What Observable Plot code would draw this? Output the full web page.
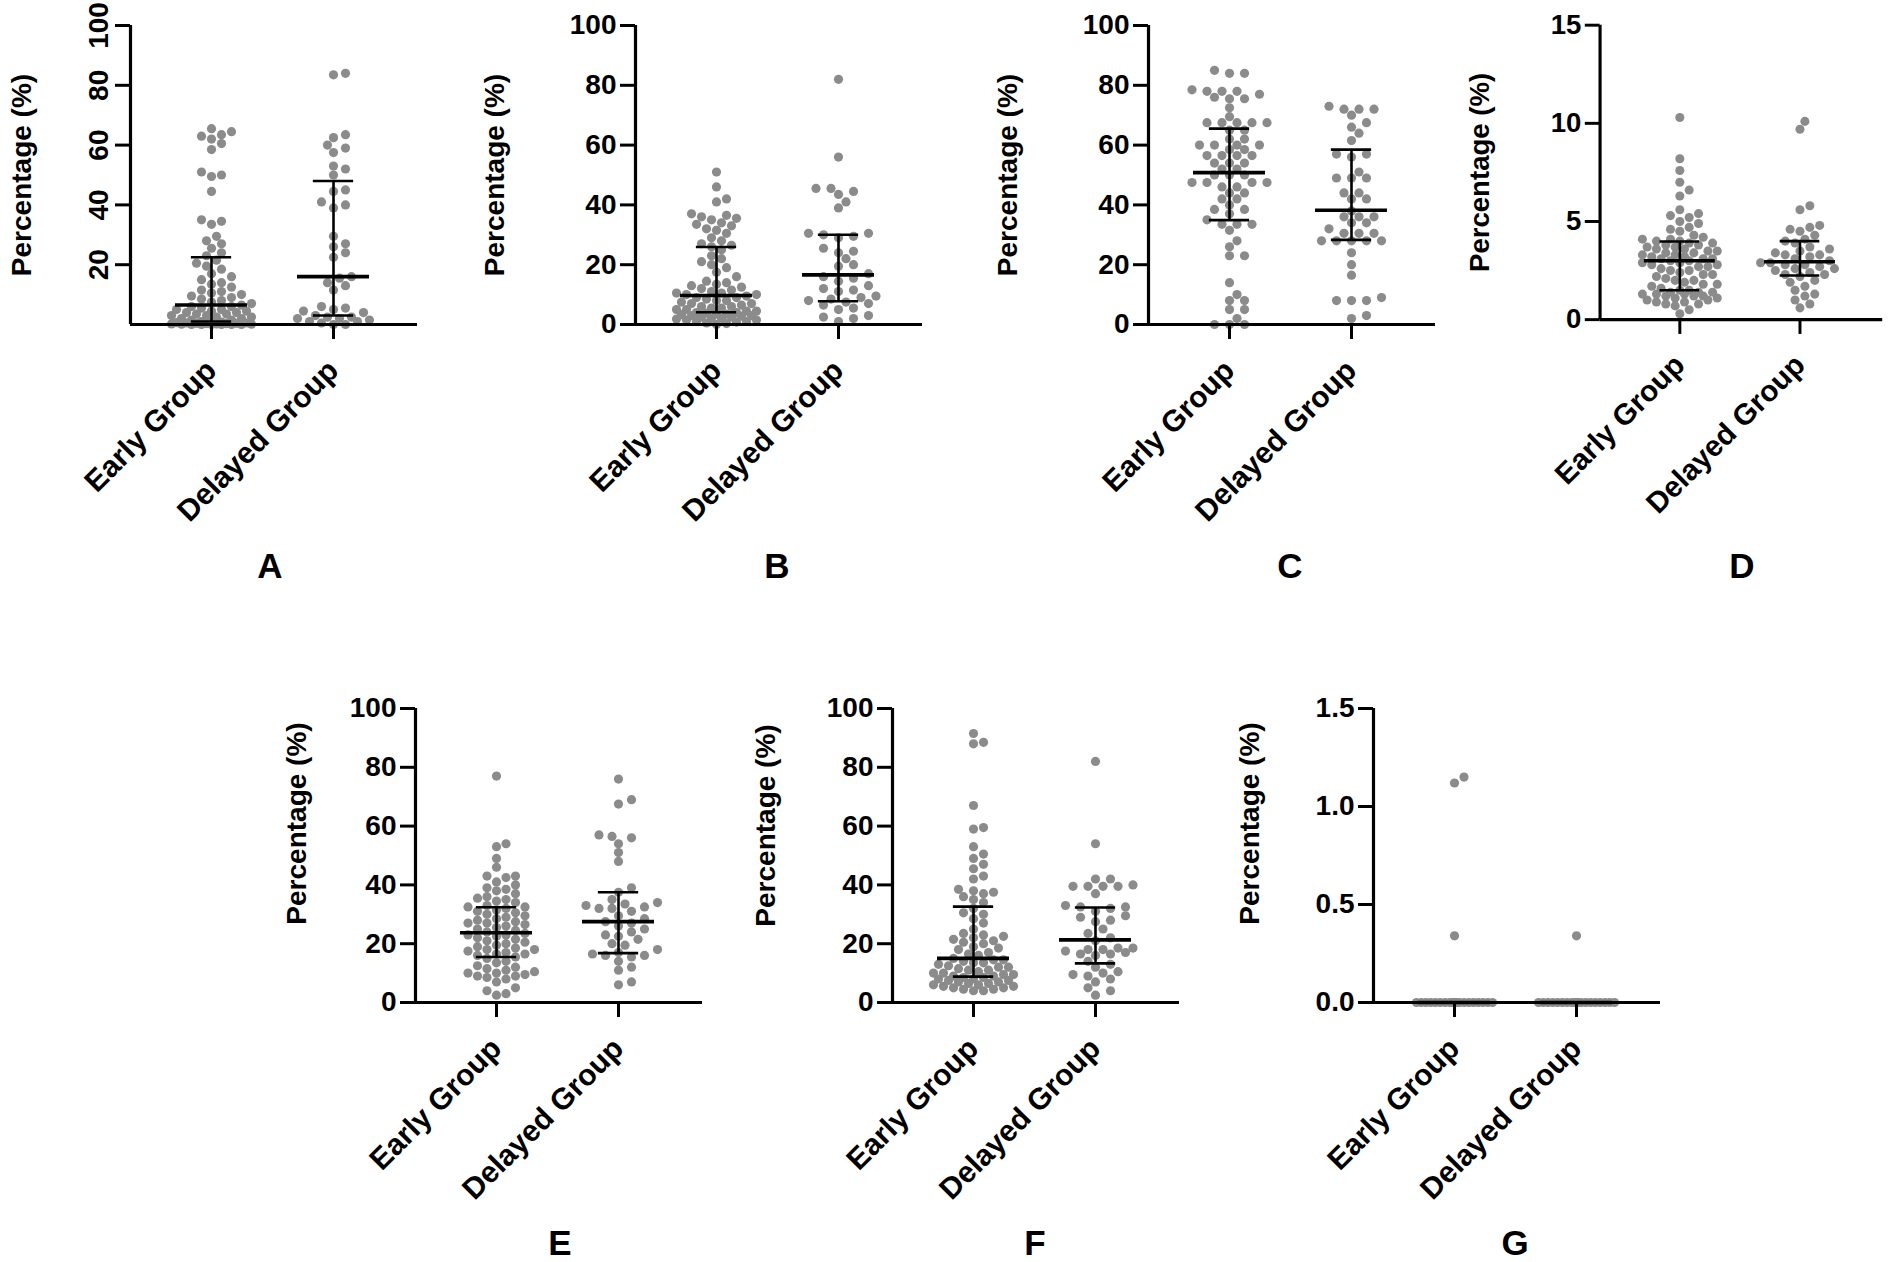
<!DOCTYPE html>
<html><head><meta charset="utf-8">
<script src="https://cdn.jsdelivr.net/npm/d3@7"></script>
<script src="https://cdn.jsdelivr.net/npm/@observablehq/plot@0.6"></script>
<style>
html,body{margin:0;padding:0;background:#fff;}
#page{position:relative;width:1896px;height:1262px;overflow:hidden;background:#fff;font-family:"Liberation Sans",Arial,Helvetica,sans-serif;}
.panel{position:absolute;}
.letter{position:absolute;font-weight:bold;font-size:35px;line-height:1;transform:translate(-50%,-50%);color:#000;}
</style></head><body><div id="page"></div>
<script>
// ---------- data ----------
const groups = ["Early Group", "Delayed Group"];
const yLabel = "Percentage (%)";

const A_early = [65.5,64.5,63.5,63,62,60.5,58.5,51,50,49.5,44.5,35,34.5,33.5,29.5,28,27,25.5,24,23,
  21.5,20.5,19.5,18.5,17,16,15,14,13.5,12.5,11.5,11,10.5,10,9.5,9,8.5,8,7.5,7,
  6.5,6,6,5.5,5,5,4.5,4.5,4,4,3.5,3.5,3,3,2.5,2.5,2,2,1.5,1.5,1,
  0.8,0.7,0.6,0.5,0.5,0.4,0.4,0.3,0.3,0.2,0.2,0.1,0.1,0,0,0,0,0,0];
const A_delayed = [84,83.5,63.5,62.5,60,59,57.5,53,52,50,45,44.5,41,40,39,29.5,27,26,24,22.5,
  16,15.5,14,13,11.5,6,5.5,5,4.5,4,3,2.5,2.5,2,2,1.5,1,1,0.5,0,0];
const A_median = [6.5, 16], A_q1 = [1, 3], A_q3 = [22.5, 48];

const B_early = [51,46,42,41,37,36.5,36,35.5,35,34,33.5,33,32,31.5,30.5,29,28,27,26.5,26,
  25,23,22,21,20,19,17.5,16,14.5,14,13.5,13,12.5,12,11.5,11,10.5,10.5,10,10,
  9.5,9,9,8.5,8,8,7.5,7,7,6.5,6,6,5.5,5.5,5,5,4.5,4.5,4,4,
  3.8,3.5,3.5,3.3,3,3,2.8,2.5,2.5,2,2,1.8,1.5,1.5,1,1,0.8,0.5,0.3,0];
const B_delayed = [82,56,45.5,45.5,44.5,43.5,41,39,30.5,30.5,30,29.5,29,25.5,24.5,24,22,20,19.5,17,
  16,15.5,14.5,13,12,11.5,11,9.5,9,8.5,8,7.5,7,6.5,5.5,5,3,2.5,2,1];
const B_median = [9.7, 16.6], B_q1 = [4.1, 7.8], B_q3 = [25.9, 30];

const C_early = [85,84,84,78,78,78.5,77,78,76,75.5,75.5,72.5,69.5,67.5,67.5,67.5,67.5,67.5,65,65,
  62,62,60,60,60,60,58.5,58.5,56.5,56.5,56.5,56.5,54,54,54,52,52,50,50,50,
  47.5,47.5,47.5,47.5,46,46,44,44,42,42,40,38.5,38.5,37,35,33.5,33.5,33.5,31.5,28,
  26,23,23,14,10,8,8,5,5,2,0,0,0];
const C_delayed = [73,72,72,72,70,67.5,66,64,61.5,57,57,56,51,49,49,49,44,44,42,42,
  38,36,36,36,34,34,32,30.5,30.5,30.5,28,28,28,28,28,24,20,16.5,9,8,8,8,3,2];
const C_median = [50.8, 38.2], C_q1 = [34.9, 28.3], C_q3 = [65.5, 58.5];

const D_early = [10.3,8.2,7.6,7.0,6.6,6.3,5.6,5.4,5.3,5.2,5.0,4.9,4.7,4.6,4.5,4.3,4.2,4.1,4.1,4.0,4.0,
  3.9,3.9,3.8,3.8,3.7,3.7,3.6,3.6,3.5,3.5,3.4,3.4,3.3,3.3,3.2,3.2,3.1,3.1,3.1,3.0,3.0,
  2.9,2.9,2.8,2.8,2.7,2.7,2.6,2.5,2.5,2.4,2.3,2.3,2.2,2.1,2.0,2.0,1.9,1.8,1.8,1.7,1.6,1.5,
  1.5,1.4,1.4,1.4,1.3,1.3,1.3,1.2,1.2,1.2,1.1,1.1,1.0,1.0,0.9,0.9,0.8,0.8,0.7,0.5,0.3];
const D_delayed = [10.1,9.7,5.8,5.6,4.8,4.7,4.6,4.5,4.3,4.1,
  4.0,3.9,3.7,3.6,3.5,3.4,3.3,3.3,3.2,3.1,3.0,
  2.9,2.9,2.8,2.8,2.7,2.6,2.6,2.5,2.4,2.3,2.3,
  2.2,2.0,1.9,1.7,1.5,1.3,1.2,1.0,0.8,0.6];
const D_median = [3.0, 2.95], D_q1 = [1.5, 2.25], D_q3 = [3.98, 4.0];

const E_early = [77,54,53,49,46,43,43,42.5,41,40,39,38.5,38,37,36,35.5,35,34.5,34,33,
  32.5,32.5,32,31.5,31,30.5,30,29.5,29,28.5,28,27.5,27,27,26.5,26,25.5,25,24.5,24,
  23.5,23,23,22.5,22,21.5,21,20.5,20,19.5,19,18.5,18,18,17.5,17,16.5,16.5,16,15.5,
  15,14,13.5,12.5,12,11.5,11,10.5,10,10,9.5,9,9,8.5,8,7,5,4,3,2.5];
const E_delayed = [76,69,67.5,57,56.5,56,54,51,48,39,
  37.5,35,34,33.5,33,32.5,32,32,31,29.5,28.5,
  27.5,27,26,25,24,23,22.5,21.5,20,19.5,18,
  17,16.5,16,16,15.5,14,12,11,7,6];
const E_median = [23.7, 27.5], E_q1 = [15.5, 16.8], E_q3 = [32.4, 37.5];

const F_early = [91.5,88.5,88,67,59.5,59,53,50.5,49,47,45.5,43,42,38.5,38,37.5,37,36,35,34,
  32,30.5,30,28.5,27,25,23.5,23,22.5,22,21.5,21,20.5,20,19,18.5,18,17,16.5,16,
  15,14.5,14.5,14,13.5,13.5,13,12.5,12,12,11.5,11,11,10.5,10,10,9.5,9.5,9,9,
  8.5,8.5,8,8,7.5,7.5,7,7,6.5,6.5,6,6,5.5,5.5,5,5,4.5,4.5,4,4];
const F_delayed = [82,54,42,42,40,39.5,39.5,39.5,39.5,37,33,
  32.5,32.5,32,31,29.5,29,28,27.5,25,23.5,22,
  21,18.5,18.5,18,18,17.5,17,16.5,16.5,16,14,
  13,12,10.5,10,9.5,9,8,7,5,4,2.5];
const F_median = [15, 21.3], F_q1 = [8.8, 13.3], F_q3 = [32.6, 32.3];

const G_early = [1.15,1.12,0.34,
  0,0,0,0,0,0,0,0,0,0,0,0,0,0,0,0,0,0,0,0,0,0,0,0,0,0,0,0,0,0,0,0,0,0,0,0,0,0,
  0,0,0,0,0,0,0,0,0,0,0,0,0,0,0,0,0,0,0,0,0,0,0,0,0,0,0,0,0,0,0,0,0,0,0,0,0];
const G_delayed = [0.34,
  0,0,0,0,0,0,0,0,0,0,0,0,0,0,0,0,0,0,0,0,0,0,0,0,0,0,0,0,0,0,0,0,0,0,0,0,0,0,0,0,0];
const G_median = [0, 0], G_q1 = [0, 0], G_q3 = [0, 0];

const ticks100 = [0, 20, 40, 60, 80, 100];
const ticksA = [20, 40, 60, 80, 100];
const ticksD = [0, 5, 10, 15];
const ticksG = [0, 0.5, 1.0, 1.5];

// ---------- layout / style ----------
const PX_PER_UNIT = 122, EARLY_OFF = 81, PLOT_W = 287;
const xDom = [-EARLY_OFF / PX_PER_UNIT, (PLOT_W - EARLY_OFF) / PX_PER_UNIT];
const CAP = 0.165, MED = 0.295;
const DOT_R = 4.6, DIAM = 8.8, MAX_HALF = 40;
const FONT = '"Liberation Sans", Arial, Helvetica, sans-serif';

const panels = [
  {letter:"A", early:A_early, delayed:A_delayed, median:A_median, q1:A_q1, q3:A_q3, ymax:100, ticks:ticksA, fmt:d3.format("d"),
   axisX:130, ytop:25, plotH:299, ml:128, labelOff:108, labelDy:0, rotY:-90, pitch:[10,12], lx:270, ly:565},
  {letter:"B", early:B_early, delayed:B_delayed, median:B_median, q1:B_q1, q3:B_q3, ymax:100, ticks:ticks100, fmt:d3.format("d"),
   axisX:635, ytop:25, plotH:299, ml:160, labelOff:140, labelDy:0, rotY:0, pitch:[10,15], lx:777, ly:565},
  {letter:"C", early:C_early, delayed:C_delayed, median:C_median, q1:C_q1, q3:C_q3, ymax:100, ticks:ticks100, fmt:d3.format("d"),
   axisX:1148, ytop:25, plotH:299, ml:160, labelOff:140, labelDy:0, rotY:0, pitch:[15,15], lx:1290, ly:565},
  {letter:"D", early:D_early, delayed:D_delayed, median:D_median, q1:D_q1, q3:D_q3, ymax:15, ticks:ticksD, fmt:d3.format("d"),
   axisX:1602, ytop:25, plotH:299, ml:160, labelOff:122, labelDy:0, rotY:0, pitch:[9.5,10], lx:1742, ly:565},
  {letter:"E", early:E_early, delayed:E_delayed, median:E_median, q1:E_q1, q3:E_q3, ymax:100, ticks:ticks100, fmt:d3.format("d"),
   axisX:415, ytop:708, plotH:294, ml:160, labelOff:118, labelDy:-32, rotY:0, pitch:[9.5,13], lx:560, ly:1242},
  {letter:"F", early:F_early, delayed:F_delayed, median:F_median, q1:F_q1, q3:F_q3, ymax:100, ticks:ticks100, fmt:d3.format("d"),
   axisX:892, ytop:708, plotH:294, ml:160, labelOff:126, labelDy:-30, rotY:0, pitch:[10,15], lx:1035, ly:1242},
  {letter:"G", early:G_early, delayed:G_delayed, median:G_median, q1:G_q1, q3:G_q3, ymax:1.5, ticks:ticksG, fmt:d3.format(".1f"),
   axisX:1373, ytop:708, plotH:294, ml:160, labelOff:123, labelDy:-32, rotY:0, pitch:[9.5,9.5], lx:1515, ly:1242}
];

// Prism-style column scatter: each point takes the nearest free horizontal slot
function swarm(values, gi, pxPerVal, pitch) {
  const step = pitch / 2;
  const K = Math.floor(MAX_HALF / step);
  const cands = [0];
  for (let k = 1; k <= K; k++) cands.push(k * step, -k * step);
  const placed = [];
  const sorted = values.slice().sort((a, b) => a - b);
  for (const v of sorted) {
    const py = v * pxPerVal;
    let best = 0, bestScore = -Infinity;
    for (const c of cands) {
      let mind = Infinity;
      for (const p of placed) {
        if (Math.abs(p.py - py) < DIAM) {
          const d = Math.hypot(p.px - c, p.py - py);
          if (d < mind) mind = d;
        }
      }
      if (mind >= DIAM) { best = c; break; }
      if (mind > bestScore + 1e-6) { bestScore = mind; best = c; }
    }
    placed.push({px: best, py, v});
  }
  return placed.map(p => ({x: gi + p.px / PX_PER_UNIT, v: p.v}));
}

const page = document.getElementById("page");
const MT = 20, MR = 14, MB = 240;

for (const p of panels) {
  const pxPerVal = p.plotH / p.ymax;
  const dots = [
    ...swarm(p.early, 0, pxPerVal, p.pitch[0]),
    ...swarm(p.delayed, 1, pxPerVal, p.pitch[1])
  ];
  const stats = groups.map((g, i) => ({gi: i, median: p.median[i], q1: p.q1[i], q3: p.q3[i]}));
  const W = p.ml + PLOT_W + MR, H = MT + p.plotH + MB;
  const chart = Plot.plot({
    width: W, height: H,
    marginLeft: p.ml, marginRight: MR, marginTop: MT, marginBottom: MB,
    x: {type: "linear", domain: xDom},
    y: {domain: [0, p.ymax]},
    style: {background: "transparent", overflow: "visible", fontFamily: FONT, fontWeight: "bold", color: "#000"},
    marks: [
      Plot.dot(dots, {x: "x", y: "v", r: DOT_R, fill: "#8b8b8b", stroke: "none"}),
      Plot.ruleX(stats, {x: "gi", y1: "q1", y2: "q3", stroke: "#000", strokeWidth: 2.6}),
      Plot.ruleY(stats, {y: "q1", x1: d => d.gi - CAP, x2: d => d.gi + CAP, stroke: "#000", strokeWidth: 2.6}),
      Plot.ruleY(stats, {y: "q3", x1: d => d.gi - CAP, x2: d => d.gi + CAP, stroke: "#000", strokeWidth: 2.6}),
      Plot.ruleY(stats, {y: "median", x1: d => d.gi - MED, x2: d => d.gi + MED, stroke: "#000", strokeWidth: 3.6}),
      Plot.ruleY([0], {stroke: "#000", strokeWidth: 3.2}),
      Plot.ruleX([xDom[0]], {stroke: "#000", strokeWidth: 3.2}),
      Plot.axisY({ticks: p.ticks, tickFormat: p.fmt, tickSize: 15, tickPadding: p.rotY ? 8 : 4,
        tickRotate: p.rotY, fontSize: 28, fontWeight: "bold", stroke: "#000", strokeWidth: 3, label: null}),
      Plot.axisX({ticks: [0, 1], tickFormat: i => groups[i], tickSize: 15, tickPadding: 26, tickRotate: -45,
        fontSize: 30, fontWeight: "bold", stroke: "#000", strokeWidth: 3, label: null}),
      Plot.text([yLabel], {frameAnchor: "left", textAnchor: "middle", lineAnchor: "middle", rotate: -90,
        dx: -p.labelOff, dy: p.labelDy, fontSize: 28, fontWeight: "bold", fill: "#000"})
    ]
  });
  const div = document.createElement("div");
  div.className = "panel";
  div.style.left = (p.axisX - p.ml) + "px";
  div.style.top = (p.ytop - MT) + "px";
  div.appendChild(chart);
  page.appendChild(div);

  const lab = document.createElement("div");
  lab.className = "letter";
  lab.textContent = p.letter;
  lab.style.left = p.lx + "px";
  lab.style.top = p.ly + "px";
  page.appendChild(lab);
}
</script>
</body></html>
